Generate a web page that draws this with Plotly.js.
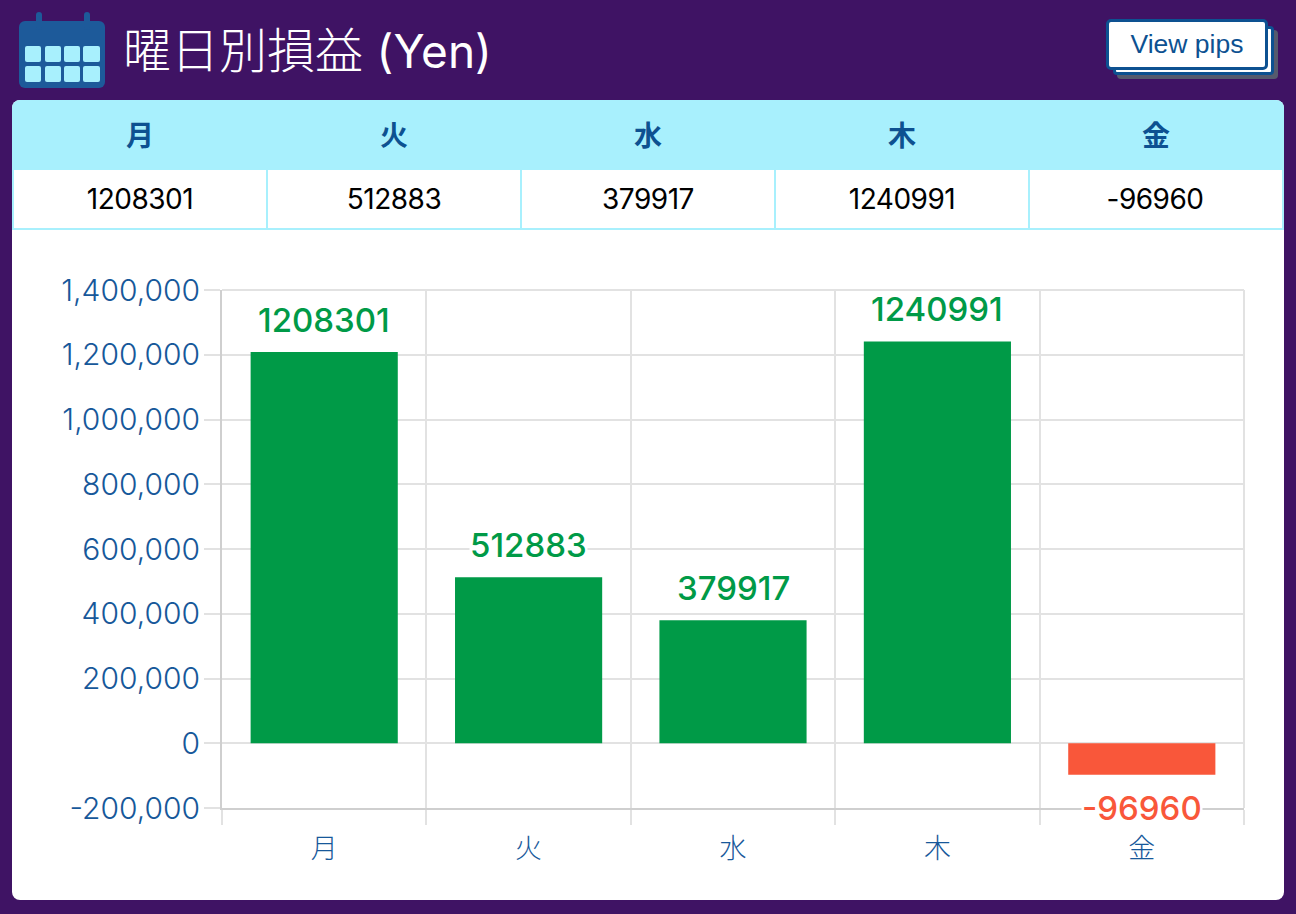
<!DOCTYPE html>
<html><head><meta charset="utf-8">
<script src="https://cdn.plot.ly/plotly-3.0.1.min.js"></script>
<style>
html,body{margin:0;padding:0;width:1296px;height:914px;overflow:hidden;background:#3f1364;}
#page{position:relative;width:1296px;height:914px;}
#icon{position:absolute;left:19px;top:12px;}
#title{position:absolute;left:123px;top:15px;font:300 48px/64px "Noto Sans CJK JP",sans-serif;color:#fff;white-space:nowrap;}
#title span{font:400 46px/64px Inter,sans-serif;margin-left:3px;}
#btnback{position:absolute;left:1113px;top:26px;width:161px;height:49px;box-sizing:border-box;background:#fff;border:3px solid #0d5191;border-radius:4px;box-shadow:4px 4px 0 #555a6e;}
#btn{position:absolute;left:1106px;top:19px;width:162px;height:51px;box-sizing:border-box;background:#fff;border:3px solid #0d5191;border-radius:5px;font:26.5px/45px "Liberation Sans",sans-serif;color:#0d5191;text-align:center;}
#card{position:absolute;left:12px;top:100px;width:1272px;height:800px;background:#fff;border-radius:8px;overflow:hidden;}
#hdr{position:absolute;left:0;top:0;width:1272px;height:70px;box-sizing:border-box;padding-left:1px;background:#a8f0fd;display:flex;}
#hdr div{width:254px;text-align:center;font:700 28px/68px "Noto Sans CJK JP",sans-serif;color:#0d5191;}
#row{position:absolute;left:0;top:70px;width:1272px;height:60px;box-sizing:border-box;display:flex;border-bottom:2px solid #a8f0fd;}
#row div{width:254px;box-sizing:border-box;text-align:center;font:400 28px/58px Inter,sans-serif;letter-spacing:-0.5px;color:#000;border-left:2px solid #a8f0fd;}
#row div:last-child{width:256px;padding-right:2px;border-right:2px solid #a8f0fd;}
#chart{position:absolute;left:0;top:0;width:1296px;height:914px;}
</style></head>
<body><div id="page">
<svg id="icon" width="88" height="78" viewBox="0 0 88 78">
<rect x="0" y="9" width="86" height="67" rx="6" fill="#1d5a9a"/>
<rect x="17" y="0" width="6" height="18" rx="3" fill="#1d5a9a"/><rect x="65" y="0" width="6" height="18" rx="3" fill="#1d5a9a"/>
<g fill="#a8f0fd">
<rect x="6" y="34" width="16" height="16" rx="2"/><rect x="26" y="34" width="16" height="16" rx="2"/><rect x="45" y="34" width="16" height="16" rx="2"/><rect x="64" y="34" width="17" height="16" rx="2"/>
<rect x="6" y="54" width="16" height="16" rx="2"/><rect x="26" y="54" width="16" height="16" rx="2"/><rect x="45" y="54" width="16" height="16" rx="2"/><rect x="64" y="54" width="17" height="16" rx="2"/>
</g></svg>
<div id="title"></div>
<div id="btnback"></div><div id="btn"></div>
<div id="card"><div id="hdr"></div><div id="row"></div></div>
<div id="chart"></div>
</div>
<script>
const titleText = "曜日別損益";
const titleUnit = "(Yen)";
const buttonText = "View pips";
const days = ["月","火","水","木","金"];
const values = [1208301,512883,379917,1240991,-96960];
const yTicks = [-200000,0,200000,400000,600000,800000,1000000,1200000,1400000];
const yTickLabels = ["-200,000","0","200,000","400,000","600,000","800,000","1,000,000","1,200,000","1,400,000"];
const labelsOverGrid = ["火","金"];
const GREEN="#009a47", RED="#f9573a", BLUE="#17589a", GRID="#e2e2e2", AXIS="#cfcfcf";

document.getElementById('title').innerHTML = titleText + ' <span>' + titleUnit + '</span>';
document.getElementById('btn').textContent = buttonText;
document.getElementById('hdr').innerHTML = days.map(d=>`<div>${d}</div>`).join('');
document.getElementById('row').innerHTML = values.map(v=>`<div>${v}</div>`).join('');

const colors = values.map(v=>v>=0?GREEN:RED);
const W=1296,H=914,L=222,R=1244,T=290,B=808;
Plotly.newPlot('chart',[{
  type:'bar',x:days,y:values,width:0.72,
  marker:{color:colors,line:{width:0}},
  hoverinfo:'skip',cliponaxis:false
}],{
  width:W,height:H,
  paper_bgcolor:'rgba(0,0,0,0)',plot_bgcolor:'rgba(0,0,0,0)',
  margin:{l:L,r:W-R,t:T,b:H-B,pad:0},
  showlegend:false,
  font:{family:'"Liberation Sans","Noto Sans CJK JP",sans-serif'},
  xaxis:{type:'category',categoryorder:'array',categoryarray:days,tickson:'boundaries',
    range:[-0.5,4.5],ticks:'outside',ticklen:15,tickwidth:2,tickcolor:GRID,
    showgrid:true,gridcolor:GRID,gridwidth:2,ticklabelstandoff:16,
    showline:true,linecolor:AXIS,linewidth:2,zeroline:false,
    tickfont:{size:27,color:BLUE,weight:300,family:'"Noto Sans CJK JP",sans-serif'}},
  yaxis:{range:[-200000,1400000],tickmode:'array',tickvals:yTicks,ticktext:yTickLabels,
    ticks:'outside',ticklen:16,tickwidth:2,tickcolor:GRID,ticklabelstandoff:-2,
    showgrid:true,gridcolor:GRID,gridwidth:2,
    showline:true,linecolor:AXIS,linewidth:2,zeroline:false,
    tickfont:{size:30,color:BLUE,weight:300,family:'Inter,"Liberation Sans",sans-serif'}},
  shapes:[
    {type:'line',layer:'below',xref:'paper',yref:'paper',x0:0,x1:1,y0:1,y1:1,line:{color:GRID,width:2}},
    {type:'line',layer:'below',xref:'paper',yref:'paper',x0:1,x1:1,y0:0,y1:1,line:{color:GRID,width:2}}
  ],
  annotations:values.map((v,i)=>({
    x:days[i],y:v,xref:'x',yref:'y',text:String(v),showarrow:false,
    yanchor:'middle',yshift:v>=0?32:-33,
    bgcolor:labelsOverGrid.includes(days[i])?'#fff':'rgba(0,0,0,0)',borderpad:0,
    font:{size:33,weight:500,color:colors[i],family:'Inter,"Liberation Sans",sans-serif'}
  }))
},{displayModeBar:false,staticPlot:true});
</script></body></html>
